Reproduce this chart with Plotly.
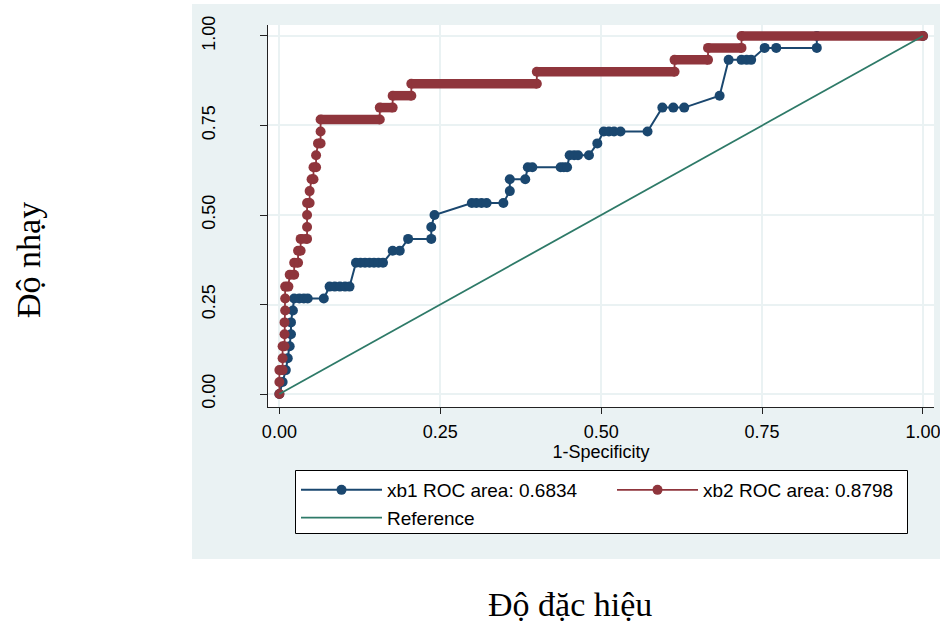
import plotly.graph_objects as go

# ---------------- data ----------------
# xb1 ROC curve: 1-specificity and sensitivity
xb1_fpr = [0.000, 0.005, 0.010, 0.013, 0.016, 0.018, 0.018, 0.021, 0.023, 0.031,
           0.038, 0.044, 0.069, 0.078, 0.086, 0.094, 0.102, 0.109, 0.119, 0.126,
           0.133, 0.140, 0.147, 0.154, 0.161, 0.176, 0.187, 0.200, 0.236, 0.236,
           0.241, 0.299, 0.306, 0.314, 0.322, 0.348, 0.358, 0.358, 0.382, 0.386,
           0.393, 0.437, 0.442, 0.447, 0.451, 0.458, 0.464, 0.481, 0.494, 0.504,
           0.512, 0.520, 0.530, 0.572, 0.595, 0.612, 0.629, 0.684, 0.698, 0.718,
           0.726, 0.733, 0.754, 0.772, 0.835, 0.835, 1.000]
xb1_tpr = [0.0000, 0.0333, 0.0667, 0.1000, 0.1333, 0.1667, 0.2000, 0.2333, 0.2667, 0.2667,
           0.2667, 0.2667, 0.2667, 0.3000, 0.3000, 0.3000, 0.3000, 0.3000, 0.3667, 0.3667,
           0.3667, 0.3667, 0.3667, 0.3667, 0.3667, 0.4000, 0.4000, 0.4333, 0.4333, 0.4667,
           0.5000, 0.5333, 0.5333, 0.5333, 0.5333, 0.5333, 0.5667, 0.6000, 0.6000, 0.6333,
           0.6333, 0.6333, 0.6333, 0.6333, 0.6667, 0.6667, 0.6667, 0.6667, 0.7000, 0.7333,
           0.7333, 0.7333, 0.7333, 0.7333, 0.8000, 0.8000, 0.8000, 0.8333, 0.9333, 0.9333,
           0.9333, 0.9333, 0.9667, 0.9667, 0.9667, 1.0000, 1.0000]

# xb2 ROC curve: vertices of the curve (1-specificity and sensitivity)
xb2_fpr = [0.000, 0.000, 0.000, 0.005, 0.005, 0.005, 0.008, 0.008, 0.008, 0.009,
           0.009, 0.009, 0.014, 0.016, 0.023, 0.023, 0.029, 0.029, 0.033, 0.033,
           0.043, 0.043, 0.043, 0.043, 0.047, 0.047, 0.050, 0.053, 0.053, 0.057,
           0.057, 0.060, 0.064, 0.064, 0.064, 0.156, 0.156, 0.176, 0.176, 0.205,
           0.205, 0.400, 0.400, 0.614, 0.614, 0.666, 0.666, 0.718, 0.718, 1.000]
xb2_tpr = [0.0000, 0.0333, 0.0667, 0.0667, 0.1000, 0.1333, 0.1333, 0.1667, 0.2000, 0.2333,
           0.2667, 0.3000, 0.3000, 0.3333, 0.3333, 0.3667, 0.3667, 0.4000, 0.4000, 0.4333,
           0.4333, 0.4667, 0.5000, 0.5333, 0.5333, 0.5667, 0.6000, 0.6000, 0.6333, 0.6333,
           0.6667, 0.7000, 0.7000, 0.7333, 0.7667, 0.7667, 0.8000, 0.8000, 0.8333, 0.8333,
           0.8667, 0.8667, 0.9000, 0.9000, 0.9333, 0.9333, 0.9667, 0.9667, 1.0000, 1.0000]

ref_x = [0.0, 1.0]
ref_y = [0.0, 1.0]

legend_names = ["xb1 ROC area: 0.6834", "xb2 ROC area: 0.8798", "Reference"]
tick_vals = [0.0, 0.25, 0.5, 0.75, 1.0]
tick_text = ["0.00", "0.25", "0.50", "0.75", "1.00"]
x_title = "1-Specificity"
outer_y_title = "Độ nhạy"
outer_x_title = "Độ đặc hiệu"

# ---------------- styling ----------------
BLUE = "#1A476F"
RED = "#8F353C"
GREEN = "#2E7A68"
REGION = "#EAF2F3"
GRID = "#EAF2F3"
AXIS = "#222222"
SANS = "Liberation Sans, Arial, sans-serif"
SERIF = "Liberation Serif, Times New Roman, serif"

W, H = 940, 622
L, R, T, B = 268, 6, 25, 215
PW, PH = W - L - R, H - T - B


def px_x(p):
    return (p - L) / PW


def px_y(p):
    return (H - B - p) / PH


# horizontal runs of the xb2 curve (drawn as thick bands of overlapping markers)
band_x, band_y = [], []
i = 0
n = len(xb2_fpr)
while i < n:
    j = i
    while j + 1 < n and xb2_tpr[j + 1] == xb2_tpr[i]:
        j += 1
    if j > i:
        band_x += [xb2_fpr[i], xb2_fpr[j], None]
        band_y += [xb2_tpr[i], xb2_tpr[j], None]
    i = j + 1

fig = go.Figure()

fig.add_trace(go.Scatter(
    x=xb1_fpr, y=xb1_tpr, mode="lines+markers", name=legend_names[0],
    line=dict(color=BLUE, width=2), marker=dict(color=BLUE, size=10, line=dict(width=0)),
))
fig.add_trace(go.Scatter(
    x=xb2_fpr, y=xb2_tpr, mode="lines+markers", name=legend_names[1],
    line=dict(color=RED, width=1.8), marker=dict(color=RED, size=10, line=dict(width=0)),
))
fig.add_trace(go.Scatter(
    x=band_x, y=band_y, mode="lines", showlegend=False, hoverinfo="skip",
    line=dict(color=RED, width=9.5),
))
fig.add_trace(go.Scatter(
    x=ref_x, y=ref_y, mode="lines", name=legend_names[2],
    line=dict(color=GREEN, width=1.8),
))

ITEMW = 81
fig.update_layout(
    width=W, height=H, autosize=False,
    margin=dict(l=L, r=R, t=T, b=B, pad=0, autoexpand=False),
    paper_bgcolor="white", plot_bgcolor="white",
    font=dict(family=SANS, size=18, color="#000000"),
    showlegend=True,
    legend=dict(
        orientation="h", x=px_x(296), y=px_y(471), xanchor="left", yanchor="top",
        entrywidth=311 - (ITEMW + 10), entrywidthmode="pixels", itemwidth=ITEMW,
        bgcolor="rgba(0,0,0,0)", borderwidth=0,
        font=dict(family=SANS, size=19, color="#000000"), traceorder="normal",
        itemclick=False,
    ),
    shapes=[
        dict(type="rect", xref="paper", yref="paper", layer="below",
             x0=px_x(192), x1=px_x(940), y0=px_y(559), y1=px_y(4),
             fillcolor=REGION, line=dict(width=0)),
        dict(type="rect", xref="paper", yref="paper", layer="below",
             x0=0, x1=1, y0=0, y1=1, fillcolor="white", line=dict(width=0)),
        # legend frame
        dict(type="rect", xref="paper", yref="paper", layer="below",
             x0=px_x(295.5), x1=px_x(907.5), y0=px_y(533.5), y1=px_y(470.5),
             fillcolor="white", line=dict(color="#000000", width=1)),
    ],
    annotations=[
        dict(text=outer_y_title, xref="paper", yref="paper", x=px_x(28), y=px_y(260),
             textangle=-90, showarrow=False, xanchor="center", yanchor="middle",
             font=dict(family=SERIF, size=34, color="#000000")),
        dict(text=outer_x_title, xref="paper", yref="paper", x=px_x(570), y=px_y(604),
             showarrow=False, xanchor="center", yanchor="middle",
             font=dict(family=SERIF, size=34, color="#000000")),
    ],
)

fig.update_xaxes(
    range=[-0.0177, 1.0171], tickvals=tick_vals, ticktext=tick_text,
    showgrid=True, gridcolor=GRID, gridwidth=1.5, zeroline=False,
    showline=True, linecolor=AXIS, linewidth=1.2, mirror=False,
    ticks="outside", ticklen=6, tickwidth=1.2, tickcolor=AXIS,
    tickfont=dict(family=SANS, size=18), ticklabeloverflow="allow",
    ticklabelstandoff=2,
    title=dict(text=x_title, font=dict(family=SANS, size=18), standoff=0),
    automargin=False,
)
fig.update_yaxes(
    range=[-0.0363, 1.0307], tickvals=tick_vals, ticktext=tick_text,
    showgrid=True, gridcolor=GRID, gridwidth=1.5, zeroline=False,
    showline=True, linecolor=AXIS, linewidth=1.2, mirror=False,
    ticks="outside", ticklen=7, tickwidth=1.2, tickcolor=AXIS,
    tickangle=-90, tickfont=dict(family=SANS, size=18), ticklabeloverflow="allow",
    ticklabelstandoff=38,
    automargin=False,
)

fig.write_html("out.html")
